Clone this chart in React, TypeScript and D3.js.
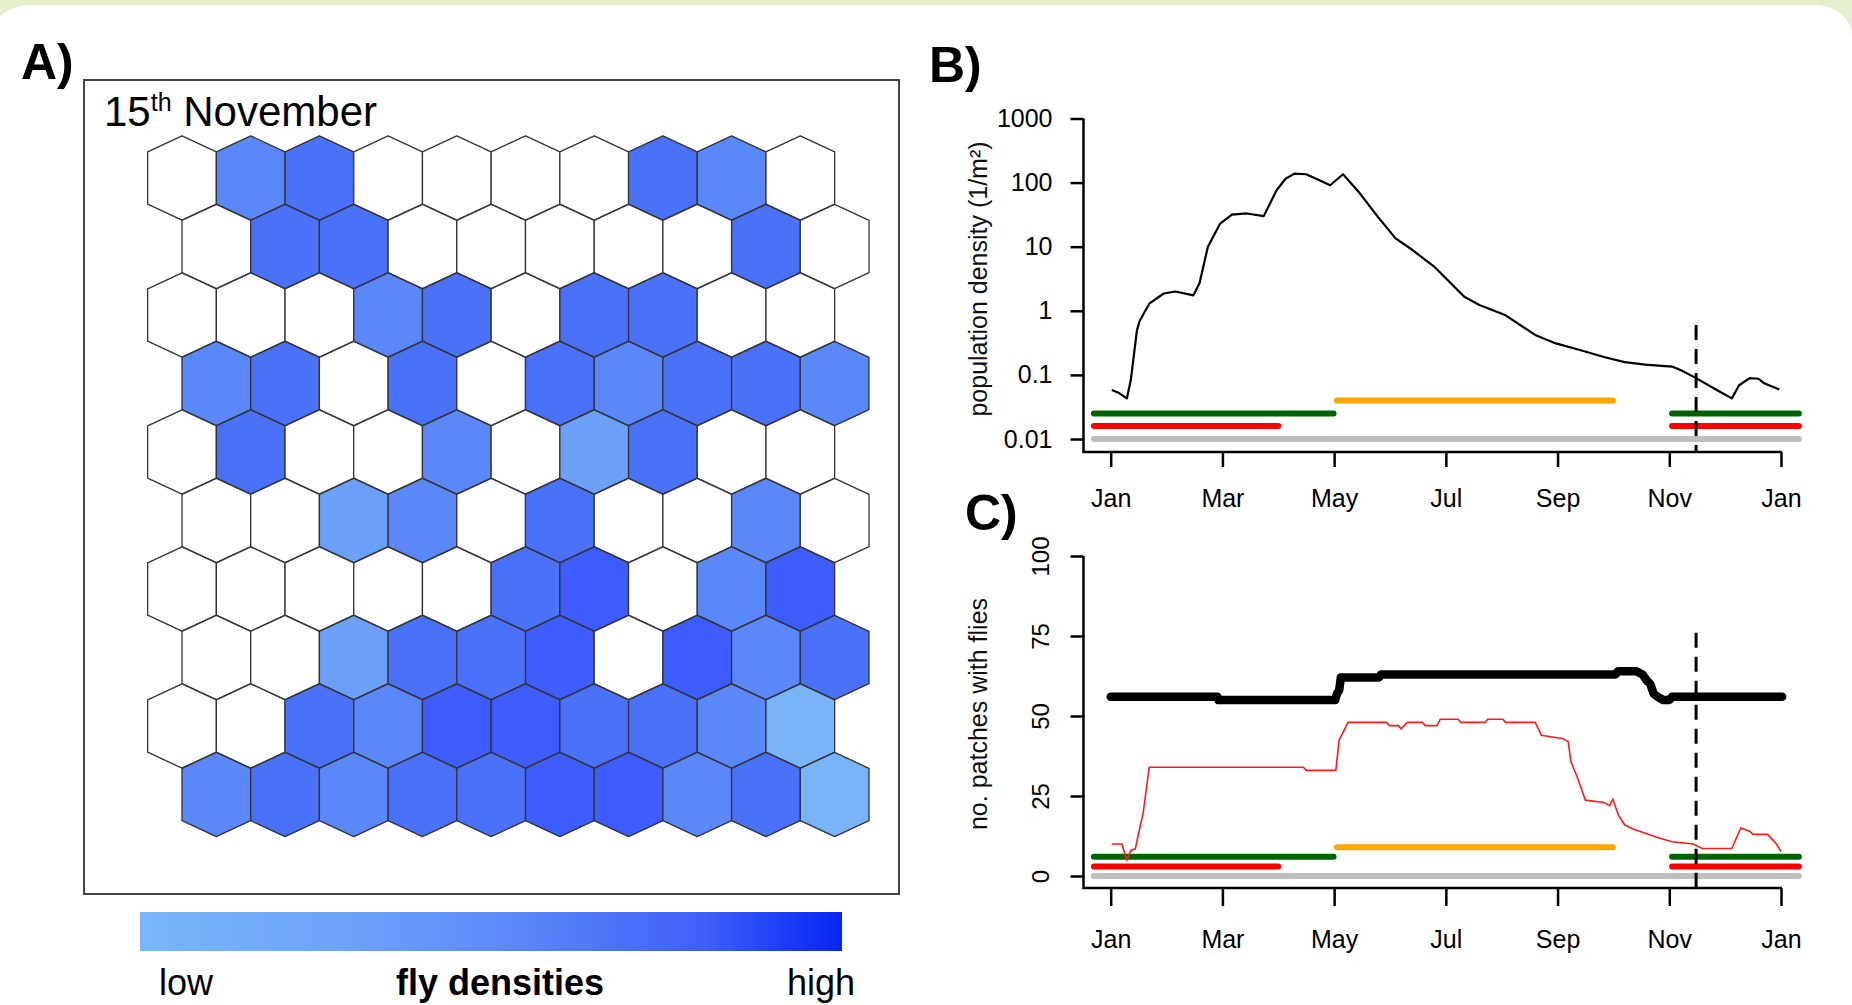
import React, { useEffect, useRef } from "react";
import * as d3 from "d3";

const W = 1852;
const H = 1005;
const FONT = "'Liberation Sans', Arial, sans-serif";

// panel A: 10 x 10 hex patches, 0 = no flies, 1..5 = density class (1 lowest)
const hexRows = [
  [0, 3, 4, 0, 0, 0, 0, 4, 3, 0],
  [0, 4, 4, 0, 0, 0, 0, 0, 4, 0],
  [0, 0, 0, 3, 4, 0, 4, 4, 0, 0],
  [3, 4, 0, 4, 0, 4, 3, 4, 4, 3],
  [0, 4, 0, 0, 3, 0, 2, 4, 0, 0],
  [0, 0, 2, 3, 0, 4, 0, 0, 3, 0],
  [0, 0, 0, 0, 0, 4, 5, 0, 3, 5],
  [0, 0, 2, 4, 4, 5, 0, 5, 3, 4],
  [0, 0, 4, 3, 5, 5, 4, 4, 3, 1],
  [3, 4, 3, 4, 4, 5, 5, 3, 4, 1],
];
const densityClasses = [1, 2, 3, 4, 5];
const densityColors = ["#7ab4f8", "#6aa0f8", "#5b88f8", "#4a72f8", "#3d5cfc"];
const rampStops = [0, 0.3, 0.55, 0.8, 1];
const rampColors = ["#7ab6f9", "#6ca2f8", "#5a86f8", "#3f60f8", "#0626f4"];

// shared month axis (0 = 1 Jan, 12 = next 1 Jan)
const monthTicks = [0, 2, 4, 6, 8, 10, 12];
const monthLabels = ["Jan", "Mar", "May", "Jul", "Sep", "Nov", "Jan"];
const markerMonth = 10.48; // 15th November

// panel B
const densityTicks = [0.01, 0.1, 1, 10, 100, 1000];
const densityTickLabels = ["0.01", "0.1", "1", "10", "100", "1000"];
const popDensity: [number, number][] = [
  [0.02, 0.058], [0.15, 0.052], [0.29, 0.043], [0.36, 0.083], [0.47, 0.5],
  [0.52, 0.7], [0.69, 1.29], [0.95, 1.86], [1.16, 2.0], [1.48, 1.74],
  [1.59, 2.7], [1.74, 10], [1.96, 23], [2.17, 31.6], [2.44, 33], [2.74, 30],
  [2.97, 76], [3.13, 115], [3.29, 138], [3.5, 135], [3.93, 91], [4.16, 135],
  [4.46, 68], [4.78, 29.5], [5.1, 13.5], [5.37, 9.3], [5.79, 4.9],
  [6.33, 1.66], [6.6, 1.23], [7.07, 0.85], [7.6, 0.42], [7.97, 0.31],
  [8.4, 0.245], [8.83, 0.19], [9.2, 0.158], [9.57, 0.145], [10.05, 0.135],
  [10.22, 0.117], [10.48, 0.089], [10.85, 0.058], [11.12, 0.043],
  [11.25, 0.069], [11.44, 0.089], [11.6, 0.087], [11.7, 0.074], [11.97, 0.059],
];
const markerTopB = 0.6;

// panel C
const patchTicks = [0, 25, 50, 75, 100];
const patchesAll: [number, number][] = [
  [0, 56], [1.91, 56], [1.93, 55], [4.02, 55], [4.05, 57], [4.09, 58],
  [4.12, 62], [4.8, 62], [4.84, 63], [9.04, 63], [9.08, 64], [9.41, 64],
  [9.52, 63], [9.6, 61], [9.66, 60], [9.72, 57], [9.79, 56], [9.89, 55],
  [10.0, 55], [10.05, 56], [12.02, 56],
];
const patchesRed: [number, number][] = [
  [0.02, 10], [0.2, 10], [0.29, 5], [0.36, 8], [0.44, 8.5], [0.52, 15],
  [0.58, 19.6], [0.69, 34], [3.45, 34], [3.5, 33], [4.03, 33], [4.09, 42.5],
  [4.25, 48], [4.94, 48], [4.99, 47], [5.15, 47], [5.2, 46], [5.31, 48],
  [5.58, 48], [5.63, 47], [5.84, 47], [5.9, 49], [6.22, 49], [6.27, 48],
  [6.7, 48], [6.75, 49], [7.02, 49], [7.07, 48], [7.6, 48], [7.71, 44],
  [8.08, 43], [8.19, 42], [8.24, 35.7], [8.35, 31], [8.5, 23.7], [8.83, 23],
  [8.93, 22], [8.99, 24], [9.09, 19], [9.2, 16], [9.36, 14.6], [9.47, 14],
  [9.79, 12], [10.05, 10.7], [10.43, 10], [10.59, 8.6], [11.12, 8.6],
  [11.28, 15], [11.44, 14], [11.5, 13], [11.76, 13], [11.92, 10], [12.0, 7.6],
];
const markerTopC = 76;

// season bars (grey, red, green, orange) drawn under both plots
const seasonColors = ["#bebebe", "#ff0000", "#006400", "#ffa500"];
const seasonSpans = [
  [[-0.3, 12.32]],
  [[-0.3, 3.0], [10.05, 12.32]],
  [[-0.3, 3.99], [10.05, 12.32]],
  [[4.05, 8.99]],
];
const seasonLevelsB = [0.01, 0.016, 0.025, 0.04];
const seasonLevelsC = [0, 3, 6, 9];

function App() {
  const svgRef = useRef<SVGSVGElement>(null);

  useEffect(() => {
    const svg = d3.select(svgRef.current);
    svg.selectAll("*").remove();

    // background card
    svg.append("rect").attr("width", W).attr("height", H).attr("fill", "#e5efcb");
    svg.append("rect").attr("x", -8).attr("y", 5).attr("width", W + 8)
      .attr("height", H + 60).attr("rx", 38).attr("ry", 30).attr("fill", "#fff");

    const label = (txt: string, x: number, y: number) =>
      svg.append("text").attr("x", x).attr("y", y).attr("font-family", FONT)
        .attr("font-weight", "bold").attr("font-size", 50).text(txt);
    label("A)", 21, 79);
    label("B)", 929, 82);
    label("C)", 965, 530);

    // ---------- panel A ----------
    svg.append("rect").attr("x", 84).attr("y", 80).attr("width", 815).attr("height", 814)
      .attr("fill", "none").attr("stroke", "#444").attr("stroke-width", 2);

    const t = svg.append("text").attr("x", 104).attr("y", 126)
      .attr("font-family", FONT).attr("font-size", 42);
    t.append("tspan").text("15");
    t.append("tspan").attr("font-size", 25).attr("dy", -15).text("th");
    t.append("tspan").attr("dy", 15).text(" November");

    const colX = d3.scaleLinear().domain([0, 9]).range([182, 182 + 9 * 68.7]);
    const rowY = d3.scaleLinear().domain([0, 9]).range([178, 178 + 9 * 68.5]);
    const hexColor = d3.scaleOrdinal<number, string>().domain(densityClasses).range(densityColors);
    const hw = 34.35, hh = 42.15, sh = 26.15;
    const hexPts = [[0, -hh], [hw, -sh], [hw, sh], [0, hh], [-hw, sh], [-hw, -sh]];
    const cells = hexRows.flatMap((row, r) => row.map((v, c) => ({ r, c, v })));
    svg.append("g").selectAll("polygon").data(cells).join("polygon")
      .attr("points", hexPts.map((p) => p.join(",")).join(" "))
      .attr("transform", (d) => `translate(${colX(d.c) + (d.r % 2) * hw},${rowY(d.r)})`)
      .attr("fill", (d) => (d.v === 0 ? "#fff" : hexColor(d.v)))
      .attr("stroke", "#333").attr("stroke-width", 1.3).attr("stroke-linejoin", "round");

    const grad = svg.append("defs").append("linearGradient").attr("id", "ramp");
    rampStops.forEach((s, i) =>
      grad.append("stop").attr("offset", s).attr("stop-color", rampColors[i]));
    svg.append("rect").attr("x", 140).attr("y", 912).attr("width", 702).attr("height", 39)
      .attr("fill", "url(#ramp)");
    const small = (txt: string, x: number, anchor: string, bold = false) =>
      svg.append("text").attr("x", x).attr("y", 995).attr("font-family", FONT)
        .attr("font-size", 36).attr("text-anchor", anchor)
        .attr("font-weight", bold ? "bold" : "normal").text(txt);
    small("low", 159, "start");
    small("fly densities", 500, "middle", true);
    small("high", 855, "end");

    // ---------- panels B and C ----------
    const x = d3.scaleLinear().domain([0, 12]).range([1110.7, 1781]);
    const yB = d3.scaleLog().domain([0.01, 1000]).range([439, 118.5]);
    const yC = d3.scaleLinear().domain([0, 100]).range([876, 556]);

    const styleAxis = (g: any) => {
      g.select(".domain").remove();
      g.selectAll(".tick line").attr("stroke", "#000").attr("stroke-width", 2.5);
      g.selectAll(".tick text").attr("fill", "#000").attr("font-size", 25)
        .attr("font-family", FONT);
    };

    const drawPanel = (
      y: any, levels: number[], axisY: number, tickLen: number, pad: number,
      top: number, markerTop: number
    ) => {
      const g = svg.append("g");
      seasonSpans.forEach((spans, i) =>
        spans.forEach(([a, b]) =>
          g.append("line").attr("x1", x(a)).attr("x2", x(b))
            .attr("y1", y(levels[i])).attr("y2", y(levels[i]))
            .attr("stroke", seasonColors[i]).attr("stroke-width", 6)
            .attr("stroke-linecap", "round")));
      g.append("g").attr("transform", `translate(0,${axisY})`)
        .call(d3.axisBottom(x).tickValues(monthTicks)
          .tickFormat((d, i) => monthLabels[i]).tickSize(tickLen).tickPadding(pad))
        .call(styleAxis);
      g.append("path")
        .attr("d", `M${x.range()[0] - 27.2},${top}V${axisY}H${x(12) + 1}`)
        .attr("fill", "none").attr("stroke", "#000").attr("stroke-width", 2.5);
      return g;
    };

    // B
    const gB = drawPanel(yB, seasonLevelsB, 452, 15, 22, 118.5, markerTopB);
    gB.append("path").datum(popDensity)
      .attr("d", d3.line<[number, number]>().x((d) => x(d[0])).y((d) => yB(d[1])))
      .attr("fill", "none").attr("stroke", "#000").attr("stroke-width", 2.2)
      .attr("stroke-linejoin", "round");
    gB.append("line").attr("x1", x(markerMonth)).attr("x2", x(markerMonth))
      .attr("y1", yB(markerTopB)).attr("y2", 452)
      .attr("stroke", "#000").attr("stroke-width", 3).attr("stroke-dasharray", "15,9");
    gB.append("g").attr("transform", "translate(1083.5,0)")
      .call(d3.axisLeft(yB).tickValues(densityTicks)
        .tickFormat((d, i) => densityTickLabels[i]).tickSize(13).tickPadding(18))
      .call(styleAxis);
    gB.append("text").attr("transform", "translate(987,279) rotate(-90)")
      .attr("text-anchor", "middle").attr("font-family", FONT).attr("font-size", 25)
      .attr("fill", "#111").text("population density (1/m²)");

    // C
    const gC = drawPanel(yC, seasonLevelsC, 888, 18, 24, 556, markerTopC);
    const lineC = d3.line<[number, number]>().x((d) => x(d[0])).y((d) => yC(d[1]));
    gC.append("path").datum(patchesRed).attr("d", lineC)
      .attr("fill", "none").attr("stroke", "#ff1a1a").attr("stroke-width", 1.6);
    gC.append("path").datum(patchesAll).attr("d", lineC)
      .attr("fill", "none").attr("stroke", "#000").attr("stroke-width", 8.5)
      .attr("stroke-linejoin", "round").attr("stroke-linecap", "round");
    gC.append("line").attr("x1", x(markerMonth)).attr("x2", x(markerMonth))
      .attr("y1", yC(markerTopC)).attr("y2", 888)
      .attr("stroke", "#000").attr("stroke-width", 3).attr("stroke-dasharray", "15,9");
    const yAxC = gC.append("g").attr("transform", "translate(1083.5,0)")
      .call(d3.axisLeft(yC).tickValues(patchTicks).tickSize(13))
      .call(styleAxis);
    yAxC.selectAll(".tick text").attr("x", null).attr("dy", null)
      .attr("text-anchor", "middle").attr("font-size", 24)
      .attr("transform", "translate(-35,0) rotate(-90)");
    gC.append("text").attr("transform", "translate(987,714) rotate(-90)")
      .attr("text-anchor", "middle").attr("font-family", FONT).attr("font-size", 25)
      .attr("fill", "#111").text("no. patches with flies");
  }, []);

  return (
    <div style={{ position: "absolute", left: 0, top: 0 }}>
      <svg ref={svgRef} width={W} height={H} style={{ display: "block" }} />
    </div>
  );
}

export default App;
